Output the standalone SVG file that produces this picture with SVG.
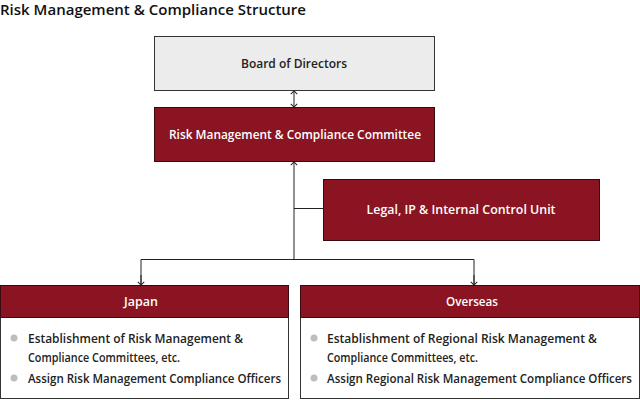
<svg xmlns="http://www.w3.org/2000/svg" width="640" height="400" viewBox="0 0 640 400">
<defs>
<style>
text{font-family:"Open Sans","Liberation Sans",sans-serif;font-weight:600;}
.red{fill:#8a1421;stroke:#3a0a0e;stroke-width:1}
.grey{fill:#ececec;stroke:#333;stroke-width:1}
.body{fill:#fff;stroke:#333;stroke-width:1}
.wt{fill:#fff;font-size:13px;text-anchor:middle}
.bt{fill:#222;font-size:13px;text-anchor:middle}
.lt{fill:#222;font-size:13px}
.dot{fill:#bdbdbd}
.ln{fill:none;stroke:#222;stroke-width:1}
</style>
<marker id="ah" viewBox="0 0 10 10" refX="9" refY="5" markerWidth="8" markerHeight="8" orient="auto-start-reverse" markerUnits="userSpaceOnUse">
<path d="M5,1 L9,5 L5,9" fill="none" stroke="#222" stroke-width="1.3"/>
</marker>
</defs>
<text x="0" y="15" font-size="14.5" fill="#111" textLength="306" lengthAdjust="spacingAndGlyphs">Risk Management &amp; Compliance Structure</text>
<g id="connectors">
<line class="ln" x1="294" y1="91" x2="294" y2="107" marker-start="url(#ah)" marker-end="url(#ah)"/>
<line class="ln" x1="294" y1="162" x2="294" y2="259" marker-start="url(#ah)"/>
<line class="ln" x1="294" y1="208.5" x2="323" y2="208.5"/>
<polyline class="ln" points="141,285 141,259.5 474,259.5 474,285"/>
<line class="ln" x1="141" y1="275" x2="141" y2="285" marker-end="url(#ah)"/>
<line class="ln" x1="474" y1="275" x2="474" y2="285" marker-end="url(#ah)"/>
</g>
<g id="board">
<rect class="grey" x="154.5" y="36.5" width="280" height="54"/>
<text class="bt" x="294" y="68" textLength="106" lengthAdjust="spacingAndGlyphs">Board of Directors</text>
</g>
<g id="committee">
<rect class="red" x="154.5" y="107.5" width="280" height="54"/>
<text class="wt" x="295" y="139" textLength="252" lengthAdjust="spacingAndGlyphs">Risk Management &amp; Compliance Committee</text>
</g>
<g id="legal">
<rect class="red" x="323.5" y="179.5" width="276" height="61"/>
<text class="wt" x="461" y="214" textLength="189" lengthAdjust="spacingAndGlyphs">Legal, IP &amp; Internal Control Unit</text>
</g>
<g id="japan">
<rect class="body" x="0.5" y="285.5" width="288" height="113"/>
<rect class="red" x="0.5" y="285.5" width="288" height="32"/>
<text class="wt" x="141" y="306" textLength="34" lengthAdjust="spacingAndGlyphs">Japan</text>
<circle class="dot" cx="14" cy="338" r="3.5"/>
<text class="lt" x="28" y="343" textLength="215" lengthAdjust="spacingAndGlyphs">Establishment of Risk Management &amp;</text>
<text class="lt" x="28" y="362" textLength="152" lengthAdjust="spacingAndGlyphs">Compliance Committees, etc.</text>
<circle class="dot" cx="14" cy="378" r="3.5"/>
<text class="lt" x="28" y="383" textLength="253" lengthAdjust="spacingAndGlyphs">Assign Risk Management Compliance Officers</text>
</g>
<g id="overseas">
<rect class="body" x="300.5" y="285.5" width="339" height="113"/>
<rect class="red" x="300.5" y="285.5" width="339" height="32"/>
<text class="wt" x="472" y="306" textLength="52" lengthAdjust="spacingAndGlyphs">Overseas</text>
<circle class="dot" cx="314" cy="338" r="3.5"/>
<text class="lt" x="327" y="343" textLength="270" lengthAdjust="spacingAndGlyphs">Establishment of Regional Risk Management &amp;</text>
<text class="lt" x="327" y="362" textLength="151" lengthAdjust="spacingAndGlyphs">Compliance Committees, etc.</text>
<circle class="dot" cx="314" cy="378" r="3.5"/>
<text class="lt" x="327" y="383" font-size="11" textLength="305" lengthAdjust="spacingAndGlyphs">Assign Regional Risk Management Compliance Officers</text>
</g>
</svg>
